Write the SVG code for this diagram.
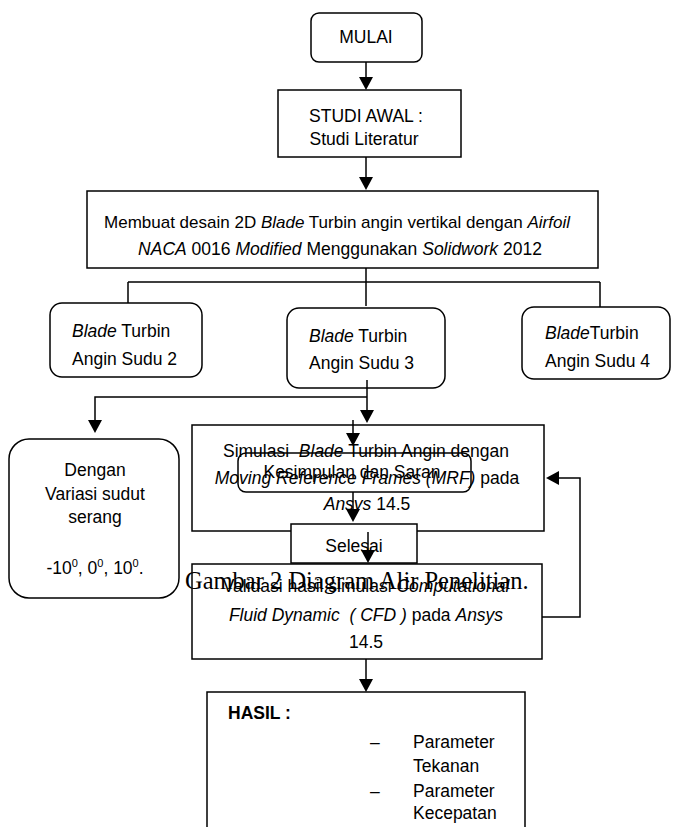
<svg xmlns="http://www.w3.org/2000/svg" width="673" height="835" viewBox="0 0 673 835">
<defs>
<marker id="ah" markerUnits="userSpaceOnUse" markerWidth="14" markerHeight="14" refX="10" refY="7" orient="auto">
<path d="M0,0 L13,7 L0,14 z" fill="#000"/>
</marker>
<style>
.b{fill:#fff;stroke:#000;stroke-width:1.5}
.t{font-family:"Liberation Sans",Arial,sans-serif;font-size:17.5px;fill:#000}
.m{text-anchor:middle}
.i{font-style:italic}
.c{fill:none;stroke:#000;stroke-width:1.5}
.a{marker-end:url(#ah)}
.cap{font-family:"Liberation Serif","Times New Roman",serif;font-size:24.5px;fill:#000}
</style>
</defs>
<rect width="673" height="835" fill="#fff"/>
<g id="mulai"><rect class="b" x="311" y="13" width="111" height="49" rx="8"/><text class="t m" x="366" y="43">MULAI</text></g>
<g id="studi"><rect class="b" x="278" y="90" width="183" height="67"/><text class="t m" x="366" y="122">STUDI AWAL :</text><text class="t m" x="364" y="145">Studi Literatur</text></g>
<g id="desain"><rect class="b" x="87" y="191" width="511" height="77"/>
<text class="t m" x="337" y="228" style="font-size:17px">Membuat desain 2D <tspan class="i">Blade</tspan> Turbin angin vertikal dengan <tspan class="i">Airfoil</tspan></text>
<text class="t m" x="340" y="255"><tspan class="i">NACA</tspan> 0016 <tspan class="i">Modified</tspan> Menggunakan <tspan class="i">Solidwork</tspan> 2012</text></g>
<g id="sudu2"><rect class="b" x="50" y="303" width="152" height="74" rx="12"/><text class="t" x="72" y="337"><tspan class="i">Blade</tspan> Turbin</text><text class="t" x="72" y="365">Angin Sudu 2</text></g>
<g id="sudu3"><rect class="b" x="287" y="308" width="158" height="80" rx="12"/><text class="t" x="309" y="342"><tspan class="i">Blade</tspan> Turbin</text><text class="t" x="309" y="369">Angin Sudu 3</text></g>
<g id="sudu4"><rect class="b" x="522" y="307" width="148" height="72" rx="12"/><text class="t" x="545" y="339"><tspan class="i">Blade</tspan>Turbin</text><text class="t" x="545" y="367">Angin Sudu 4</text></g>
<g id="variasi"><rect class="b" x="9" y="439" width="170" height="159" rx="20"/>
<text class="t m" x="95" y="476">Dengan</text><text class="t m" x="95" y="500">Variasi sudut</text><text class="t m" x="95" y="523">serang</text>
<text class="t m" x="95" y="574">-10<tspan font-size="11" dy="-7">0</tspan><tspan dy="7">, 0</tspan><tspan font-size="11" dy="-7">0</tspan><tspan dy="7">, 10</tspan><tspan font-size="11" dy="-7">0</tspan><tspan dy="7">.</tspan></text></g>
<g id="simulasi"><rect class="b" x="192" y="425" width="352" height="106"/>
<text class="t m" x="366" y="457" xml:space="preserve">Simulasi  <tspan class="i">Blade</tspan> Turbin Angin dengan</text>
<text class="t m" x="367" y="484"><tspan class="i">Moving Reference Frames (MRF)</tspan> pada</text>
<text class="t m" x="367" y="510"><tspan class="i">Ansys</tspan> 14.5</text></g>
<g id="kesimpulan"><rect x="238" y="453" width="233" height="39" rx="8" fill="none" stroke="#000" stroke-width="1.5"/><text class="t m" x="352" y="478">Kesimpulan dan Saran</text></g>
<g id="validasi"><rect class="b" x="192" y="564" width="350" height="95"/>
<text class="t m" x="366" y="592">Validasi hasil simulasi <tspan class="i">Computational</tspan></text>
<text class="t m" x="366" y="621" xml:space="preserve"><tspan class="i">Fluid Dynamic  ( CFD )</tspan> pada <tspan class="i">Ansys</tspan></text>
<text class="t m" x="366" y="648">14.5</text></g>
<g id="selesai"><rect class="b" x="291" y="524" width="126" height="39"/><text class="t m" x="354" y="552">Selesai</text></g>
<g id="hasil"><path class="c" d="M207,827 V692 H525 V827"/>
<text class="t" x="228" y="719" font-weight="bold">HASIL :</text>
<text class="t" x="370" y="748">–</text><text class="t" x="413" y="748">Parameter</text><text class="t" x="413" y="772">Tekanan</text>
<text class="t" x="370" y="797">–</text><text class="t" x="413" y="797">Parameter</text><text class="t" x="413" y="819">Kecepatan</text></g>
<text id="caption" class="cap" x="185" y="589">Gambar 2 Diagram Alir Penelitian.</text>
<g id="connectors">
<path class="c a" d="M366,62 V87"/>
<path class="c a" d="M366,157 V187"/>
<path class="c" d="M366,268 V282 M128,282 H600 M128,282 V303 M366,282 V306 M600,282 V307"/>
<path class="c a" d="M367,380 V420"/>
<path class="c a" d="M367,397 H95 V430"/>
<path class="c a" d="M353,420 V443"/>
<path class="c a" d="M353,492 V519"/>
<path class="c a" d="M368,532 V560"/>
<path class="c a" d="M542,617 H580 V478 H549"/>
<path class="c a" d="M366,659 V689"/>
</g>
</svg>
